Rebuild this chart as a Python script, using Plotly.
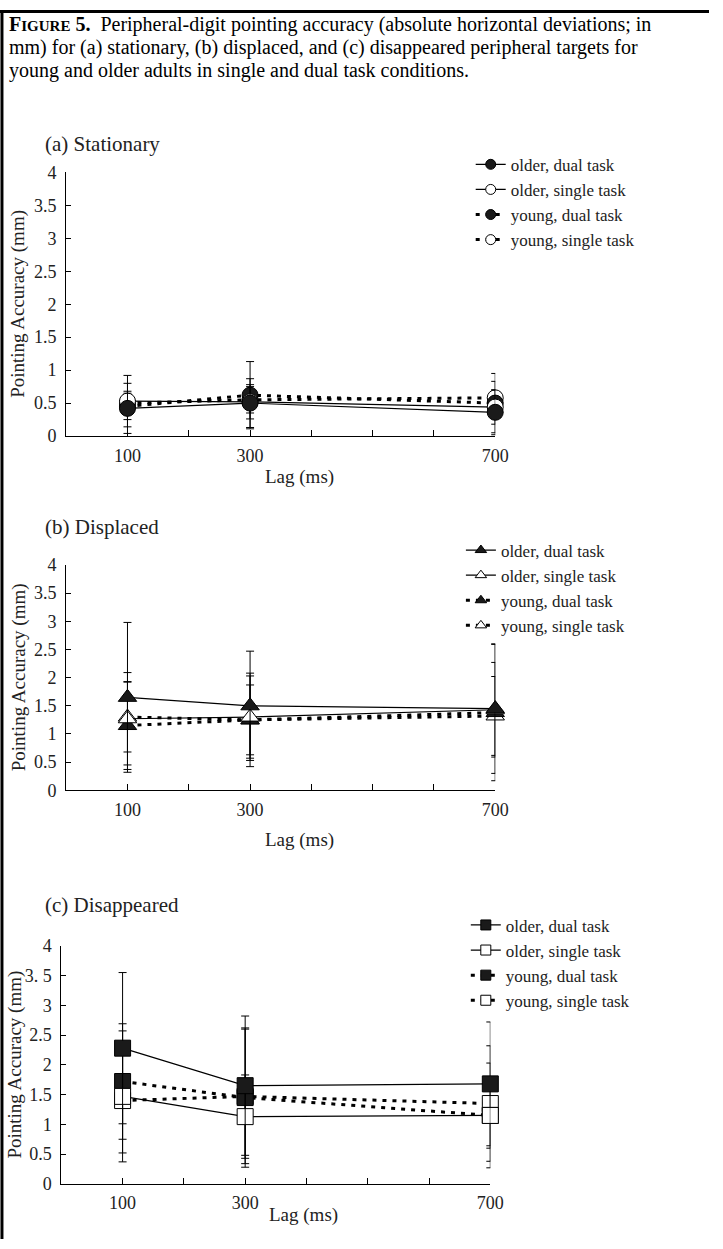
import plotly.graph_objects as go

W, H = 723, 1249

# ---------------- data ----------------
lags = [100, 300, 700]
series_names = ["older, dual task", "older, single task", "young, dual task", "young, single task"]

stat_older_dual = [0.42, 0.50, 0.36]
stat_older_single = [0.53, 0.52, 0.44]
stat_young_dual = [0.45, 0.62, 0.50]
stat_young_single = [0.50, 0.55, 0.58]
stat_older_dual_err = [0.38, 0.37, 0.34]
stat_older_single_err = [0.39, 0.26, 0.26]
stat_young_dual_err = [0.20, 0.51, 0.45]
stat_young_single_err = [0.18, 0.20, 0.25]

disp_older_dual = [1.65, 1.50, 1.45]
disp_older_single = [1.27, 1.30, 1.43]
disp_young_dual = [1.15, 1.25, 1.38]
disp_young_single = [1.30, 1.25, 1.32]
disp_older_dual_err = [1.33, 0.97, 1.15]
disp_older_single_err = [0.82, 0.73, 0.84]
disp_young_dual_err = [0.78, 0.62, 1.21]
disp_young_single_err = [0.62, 0.83, 0.70]

disa_older_dual = [2.28, 1.65, 1.68]
disa_older_single = [1.47, 1.13, 1.15]
disa_young_dual = [1.72, 1.45, 1.15]
disa_young_single = [1.40, 1.47, 1.35]
disa_older_dual_err = [1.27, 1.17, 1.04]
disa_older_single_err = [1.10, 0.70, 0.55]
disa_young_dual_err = [0.97, 1.17, 0.88]
disa_young_single_err = [0.88, 1.13, 0.97]

x_tickvals = [100, 200, 300, 400, 500, 600, 700]
x_ticktext = ["100", "", "300", "", "", "", "700"]
y_tickvals = [0, 0.5, 1, 1.5, 2, 2.5, 3, 3.5, 4]
y_ticktext_ab = ["0", "0.5", "1", "1.5", "2", "2.5", "3", "3.5", "4"]
y_ticktext_c = ["0", "0.5", "1", "1.5", "2", "2.5", "3", "3. 5", "4"]

panel_titles = ["(a) Stationary", "(b) Displaced", "(c) Disappeared"]
x_title = "Lag (ms)"
y_title = "Pointing Accuracy (mm)"
caption_lines = [
    "<b>F<span style='font-size:15px'>IGURE</span> 5.</b>  Peripheral-digit pointing accuracy "
    "(absolute horizontal deviations; in",
    "mm) for (a) stationary, (b) displaced, and (c) disappeared peripheral targets for",
    "young and older adults in single and dual task conditions.",
]

# ---------------- layout helpers ----------------
FONT = "Liberation Serif"
TXT = "#222222"

def px_x(x):
    return x / W

def px_y(y):
    return 1 - y / H

# pixel boxes: (x_left, x_right, y_bottom(0), y_top(4))
panels = [
    dict(box=(67.5, 505, 433, 165), symbol="circle", leg=(480, 139),
         vals=[stat_older_dual, stat_older_single, stat_young_dual, stat_young_single],
         errs=[stat_older_dual_err, stat_older_single_err, stat_young_dual_err, stat_young_single_err],
         yt=y_ticktext_ab, title_y=136, xt=(305, 475), yx=19),
    dict(box=(67.5, 505, 793, 564), symbol="triangle-up", leg=(470, 531),
         vals=[disp_older_dual, disp_older_single, disp_young_dual, disp_young_single],
         errs=[disp_older_dual_err, disp_older_single_err, disp_young_dual_err, disp_young_single_err],
         yt=y_ticktext_ab, title_y=525, xt=(305, 843), yx=19),
    dict(box=(62.5, 500, 1193, 951), symbol="square", leg=(475, 912),
         vals=[disa_older_dual, disa_older_single, disa_young_dual, disa_young_single],
         errs=[disa_older_dual_err, disa_older_single_err, disa_young_dual_err, disa_young_single_err],
         yt=y_ticktext_c, title_y=910, xt=(310, 1225), yx=15),
]

styles = [
    dict(filled=True, dash="solid", width=1.2),
    dict(filled=False, dash="solid", width=1.2),
    dict(filled=True, dash="4px,6px", width=3),
    dict(filled=False, dash="4px,6px", width=3),
]

fig = go.Figure()
layout = dict(
    width=W, height=H, margin=dict(l=0, r=0, t=0, b=0),
    paper_bgcolor="white", plot_bgcolor="white",
    font=dict(family=FONT, size=18, color=TXT),
    showlegend=True,
)
annotations = []
shapes = []

draw_order = [3, 2, 1, 0]
for i, p in enumerate(panels):
    xa = "x" if i == 0 else f"x{i+1}"
    ya = "y" if i == 0 else f"y{i+1}"
    xl, xr, yb, yt = p["box"]
    layout["xaxis" if i == 0 else f"xaxis{i+1}"] = dict(
        domain=[px_x(xl), px_x(xr)], range=[0, 700], anchor=ya,
        showline=True, linecolor="black", linewidth=1, mirror=False,
        ticks="inside", ticklen=6, tickwidth=1, tickcolor="black",
        tickvals=x_tickvals, ticktext=x_ticktext, showgrid=False, zeroline=False,
        tickfont=dict(family=FONT, size=18, color=TXT), ticklabelstandoff=3,
    )
    layout["yaxis" if i == 0 else f"yaxis{i+1}"] = dict(
        domain=[px_y(yb), px_y(yt)], range=[0, 4], anchor=xa,
        showline=True, linecolor="black", linewidth=1,
        ticks="inside", ticklen=5, tickwidth=1, tickcolor="black",
        tickvals=y_tickvals, ticktext=p["yt"], showgrid=False, zeroline=False,
        tickfont=dict(family=FONT, size=18, color=TXT), ticklabelstandoff=5,
    )
    legname = "legend" if i == 0 else f"legend{i+1}"
    lx, ly = p["leg"]
    layout[legname] = dict(
        x=px_x(lx), y=px_y(ly), xanchor="left", yanchor="top",
        bgcolor="rgba(0,0,0,0)", borderwidth=0, itemwidth=30,
        font=dict(family=FONT, size=17, color=TXT), tracegroupgap=0,
    )
    for k in draw_order:
        st = styles[k]
        fig.add_trace(go.Scatter(
            x=lags, y=p["vals"][k], xaxis=xa, yaxis=ya, mode="lines+markers",
            line=dict(color="black", width=st["width"], dash=st["dash"]),
            marker=dict(symbol=p["symbol"], size=16,
                        color="#1a1a1a" if st["filled"] else "white",
                        line=dict(color="black", width=1)),
            error_y=dict(type="data", array=p["errs"][k], visible=True,
                         color="black", thickness=1, width=4),
            cliponaxis=False, showlegend=False, hoverinfo="skip",
        ))
    for k in range(4):
        st = styles[k]
        fig.add_trace(go.Scatter(
            x=[None], y=[None], xaxis=xa, yaxis=ya, mode="lines+markers",
            name=series_names[k], legend=legname,
            line=dict(color="black", width=1.2 if st["dash"] == "solid" else 3, dash=st["dash"]),
            marker=dict(symbol=p["symbol"], size=10,
                        color="#1a1a1a" if st["filled"] else "white",
                        line=dict(color="black", width=1)),
        ))
    annotations.append(dict(text=panel_titles[i], x=px_x(44), y=px_y(p["title_y"]),
                            xref="paper", yref="paper", xanchor="left", yanchor="middle",
                            showarrow=False, font=dict(family=FONT, size=21, color=TXT)))
    annotations.append(dict(text=x_title, x=px_x(p["xt"][0]), y=px_y(p["xt"][1]),
                            xref="paper", yref="paper", xanchor="center", yanchor="middle",
                            showarrow=False, font=dict(family=FONT, size=19, color=TXT)))
    annotations.append(dict(text=y_title, x=px_x(p["yx"]), y=px_y((yb + yt) / 2),
                            xref="paper", yref="paper", xanchor="center", yanchor="middle",
                            textangle=-90, showarrow=False,
                            font=dict(family=FONT, size=19, color=TXT)))

for j, line in enumerate(caption_lines):
    annotations.append(dict(text=line, x=px_x(7), y=px_y(15 + 23 * j), xref="paper", yref="paper",
                            xanchor="left", yanchor="middle", align="left", showarrow=False,
                            font=dict(family=FONT, size=20, color="black")))

shapes.append(dict(type="line", xref="paper", yref="paper", x0=px_x(2), x1=px_x(2), y0=0, y1=1,
                   line=dict(color="black", width=3)))
shapes.append(dict(type="line", xref="paper", yref="paper", x0=px_x(0), x1=1, y0=px_y(1.5), y1=px_y(1.5),
                   line=dict(color="black", width=3)))

layout["annotations"] = annotations
layout["shapes"] = shapes
fig.update_layout(**layout)
fig.write_html("out.html")
